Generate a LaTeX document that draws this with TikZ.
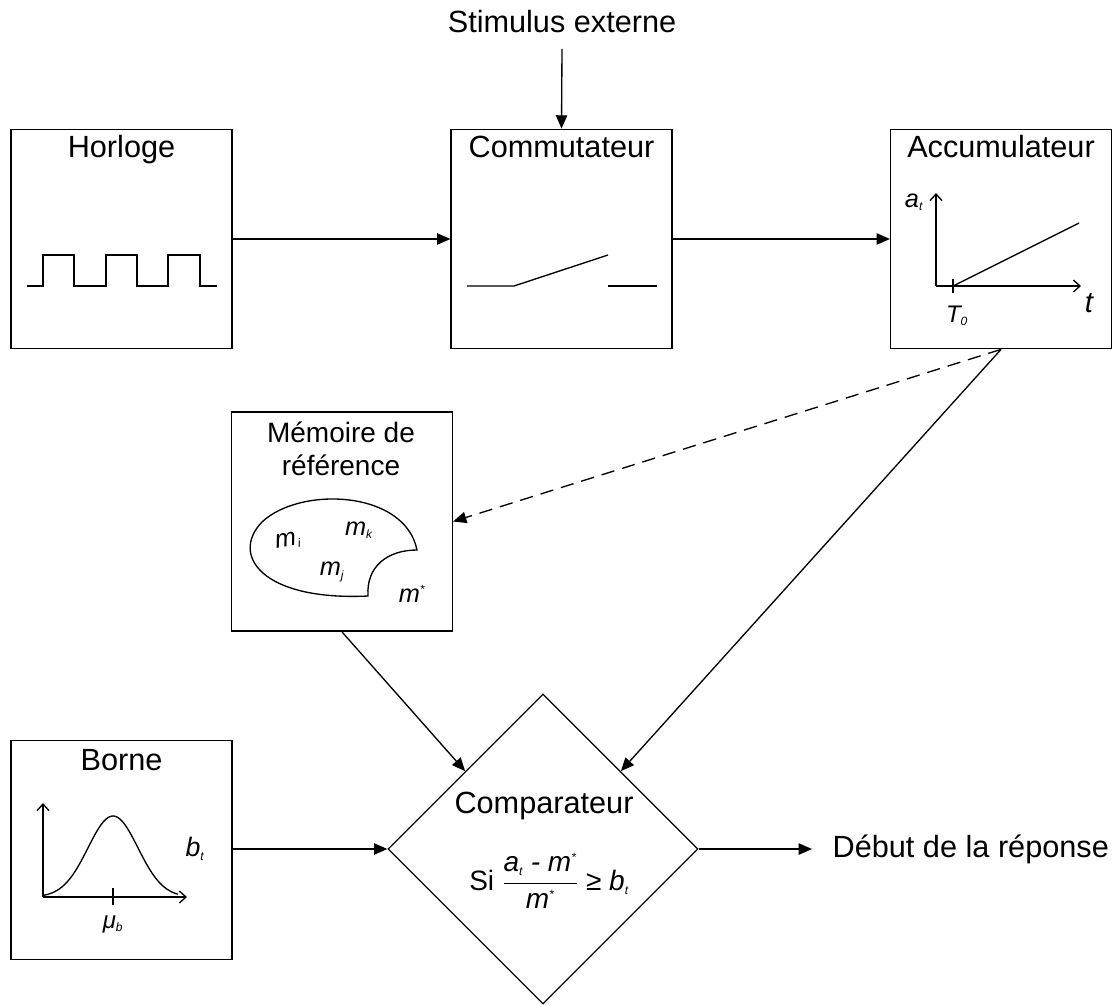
\documentclass[tikz,border=0pt]{standalone}
\usepackage{fontspec}
\setmainfont{Liberation Sans}
\usetikzlibrary{arrows.meta,shapes.geometric}

\begin{document}
\begin{tikzpicture}[x=0.75pt,y=-0.75pt,
  line width=1pt,
  box/.style={draw,line width=1.1pt,minimum width=165.5pt,minimum height=164.5pt,inner sep=0pt},
  title/.style={font=\fontsize{23}{27}\selectfont,anchor=base,inner sep=0pt},
  lab/.style={font=\fontsize{18}{21}\selectfont\itshape,inner sep=0pt},
  sm/.style={font=\fontsize{19}{22}\selectfont\itshape,inner sep=0pt},
  arr/.style={-{Triangle[length=10pt,width=8.5pt]}},
  ax/.style={-{Straight Barb[length=5pt,width=9pt]}},
]
\useasboundingbox (0,0) rectangle (1120,1004);

% boxes
\node[box] (hor) at (121.5,239) {};
\node[box] (com) at (561.5,239) {};
\node[box] (acc) at (1001,239) {};
\node[box] (mem) at (342,521.5) {};
\node[box] (bor) at (121.5,850) {};
\node[draw,diamond,minimum width=232.5pt,minimum height=232.5pt,inner sep=0pt,line width=1pt] (cmp) at (543,849) {};

% titles
\node[title,inner ysep=12pt] (stim) at (562,32) {Stimulus externe};
\node[title] (thor) at (121.5,157) {Horloge};
\node[title] (tcom) at (561.5,157) {Commutateur};
\node[title] (tacc) at (1001,157) {Accumulateur};
\node[title,font=\fontsize{21}{25}\selectfont] (tmem1) at (341,442) {Mémoire de};
\node[title,font=\fontsize{21}{25}\selectfont] (tmem2) at (341,475) {référence};
\node[title] (tbor) at (121.5,770) {Borne};
\node[title] (tcmp) at (544,813) {Comparateur};
\node[title,anchor=west,inner xsep=15pt] (out) at (812,849) {Début de la réponse};

% formula
\node[anchor=base,inner sep=0pt,font=\fontsize{21}{25}\selectfont] (form) at (549,890)
  {Si $\displaystyle\frac{\hbox{\itshape a\textsubscript{\fontsize{9}{9}\selectfont t} - m\textsuperscript{\fontsize{9}{9}\selectfont *}}}{\hbox{\itshape m\textsuperscript{\fontsize{9}{9}\selectfont *}}}$ ≥ \textit{b\textsubscript{\fontsize{9}{9}\selectfont t}}};

% clock signal
\draw (27,286) -- (43,286) -- (43,255) -- (74,255) -- (74,286) -- (106,286) -- (106,255)
  -- (137,255) -- (137,286) -- (168,286) -- (168,255) -- (200,255) -- (200,286) -- (217,286);

% switch
\draw (467,286) -- (514,286) -- (608,255);
\draw (608,286) -- (657,286);

% accumulator graph
\draw[ax] (936,286) -- (936,193);
\draw[ax] (936,286) -- (1081,286);
\draw (953,279) -- (953,293);
\draw (953,286) -- (1079,223);
\node[lab,font=\fontsize{19}{22}\selectfont\itshape] (at) at (914,202) {a\textsubscript{\fontsize{9}{9}\selectfont t}};
\node[lab,font=\fontsize{22}{24}\selectfont\itshape] (tt) at (1089,303) {t};
\node[lab] (t0) at (957,316) {T\textsubscript{\fontsize{9}{9}\selectfont 0}};

% memory blob
\draw (417,550) .. controls (405,490) and (300,486) .. (262,522)
  .. controls (230,555) and (262,601) .. (368,596)
  .. controls (366,566) and (388,550) .. (417,550) -- cycle;
\node[sm,rotate=10] (mi) at (288,541) {m\kern0.6pt\textsubscript{\fontsize{9}{9}\selectfont i}};
\node[sm] (mk) at (359,530) {m\textsubscript{\fontsize{9}{9}\selectfont k}};
\node[sm] (mj) at (332,572) {m\textsubscript{\fontsize{9}{9}\selectfont j}};
\node[sm] (ms) at (412,594) {m\textsuperscript{\fontsize{9}{9}\selectfont *}};

% bell curve
\draw[ax] (43,897) -- (43,803);
\draw[ax] (43,897) -- (187,897);
\draw (113,888) -- (113,905);
\draw[domain=43:178,samples=80,smooth] plot (\x,{897-81*exp(-0.5*((\x-113)/25)*((\x-113)/25))});
\node[lab] (mu) at (113,924) {μ\textsubscript{\fontsize{9}{9}\selectfont b}};
\node[lab,font=\fontsize{20}{24}\selectfont\itshape] (bt) at (195,849) {b\textsubscript{\fontsize{9}{9}\selectfont t}};

% connectors
\draw[arr] (stim.south) -- (com.north);
\draw[arr] (hor.east) -- (com.west);
\draw[arr] (com.east) -- (acc.west);
\draw[arr,dash pattern=on 10pt off 6pt] (acc.south) -- (mem.east);
\draw[arr] (acc.south) -- (cmp.north east);
\draw[arr] (mem.south) -- (cmp.north west);
\draw[arr] (bor.east |- cmp.west) -- (cmp.west);
\draw[arr] (cmp.east) -- (out.west);
\end{tikzpicture}
\end{document}
